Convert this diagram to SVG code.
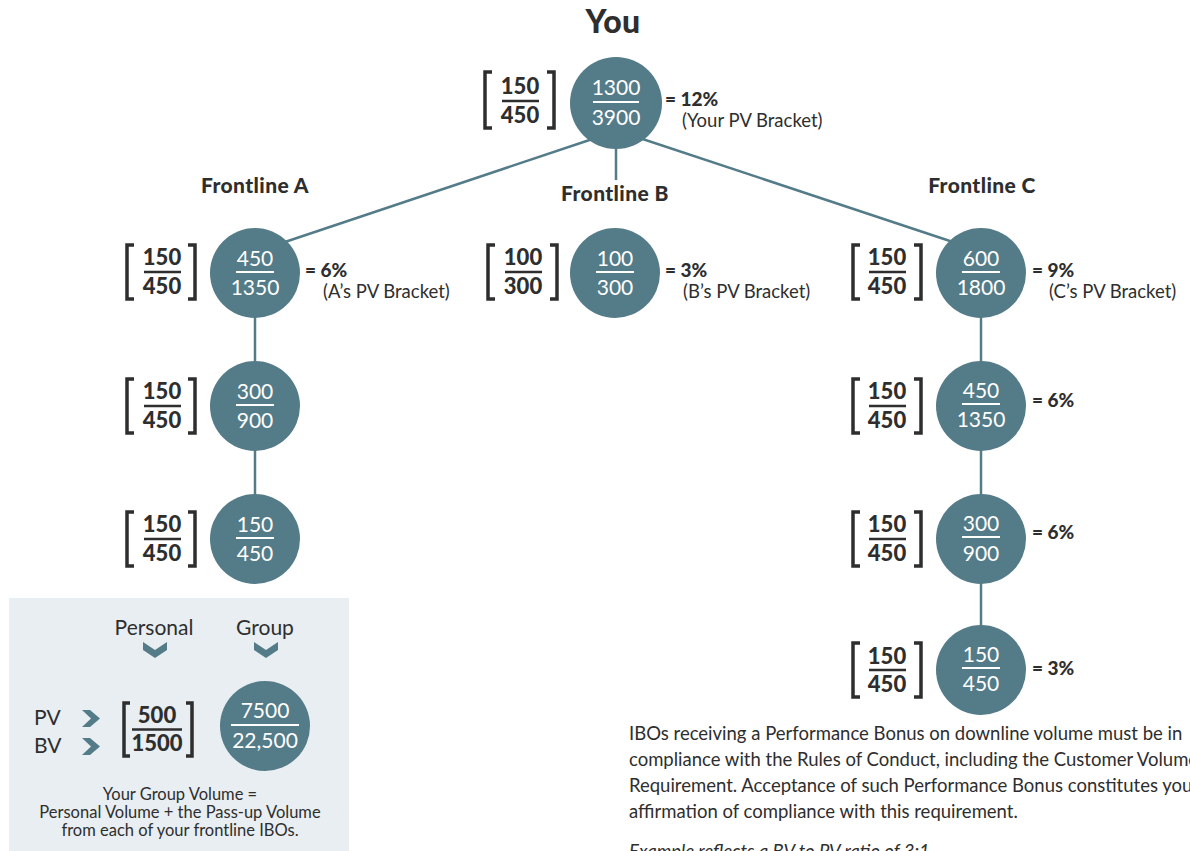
<svg xmlns="http://www.w3.org/2000/svg" width="1190" height="851" viewBox="0 0 1190 851">
<style>
.bg{fill:#ffffff}
.node{fill:#547b88}
.ctext{font-family:Lato,"Noto Sans",sans-serif;font-size:21px;fill:#ffffff;text-anchor:middle}
.cline{stroke:#ffffff;stroke-width:2}
.btext{font-family:Lato,"Noto Sans",sans-serif;font-size:22px;font-weight:900;fill:#2e2e2e;text-anchor:middle}
.bline{stroke:#2e2e2e;stroke-width:2.5}
.brk{fill:none;stroke:#2e2e2e;stroke-width:3.5}
.pct{font-family:Lato,"Noto Sans",sans-serif;font-size:19px;font-weight:900;fill:#2e2e2e}
.sub{font-family:Lato,"Noto Sans",sans-serif;font-size:18.5px;fill:#2e2e2e}
.head{font-family:Lato,"Noto Sans",sans-serif;font-size:21px;font-weight:900;fill:#2e2e2e;text-anchor:middle;letter-spacing:0.4px}
.conn{stroke:#547b88;stroke-width:2.5;fill:none}
.chev{fill:#547b88}
.leg{font-family:Lato,"Noto Sans",sans-serif;font-size:21px;fill:#2e2e2e}
.note{font-family:Lato,"Noto Sans",sans-serif;font-size:16.5px;fill:#2e2e2e;text-anchor:middle}
.para{font-family:Lato,"Noto Sans",sans-serif;font-size:18.5px;fill:#2e2e2e}
</style>
<rect class="bg" x="0" y="0" width="1190" height="851"/>

<text class="head" x="613" y="33" style="font-size:32px">You</text>
<text class="head" x="255" y="193">Frontline A</text>
<text class="head" x="615" y="201">Frontline B</text>
<text class="head" x="982" y="193">Frontline C</text>

<g id="connectors">
  <line class="conn" x1="600" y1="136.5" x2="270" y2="247"/>
  <line class="conn" x1="632" y1="135.5" x2="962" y2="245"/>
  <line class="conn" x1="616" y1="140" x2="616" y2="180"/>
  <line class="conn" x1="255" y1="310" x2="255" y2="370"/>
  <line class="conn" x1="255" y1="440" x2="255" y2="500"/>
  <line class="conn" x1="981" y1="310" x2="981" y2="370"/>
  <line class="conn" x1="981" y1="440" x2="981" y2="500"/>
  <line class="conn" x1="981" y1="575" x2="981" y2="632"/>
</g>

<g id="node-you">
  <path class="brk" d="M492,72 H485 V128 H492 M547,72 H554 V128 H547"/>
  <text class="btext" x="520" y="94">150</text>
  <line class="bline" x1="502" y1="101" x2="539" y2="101"/>
  <text class="btext" x="520" y="123">450</text>
  <circle class="node" cx="616" cy="103" r="46"/>
  <text class="ctext" x="616" y="95">1300</text>
  <line class="cline" x1="593" y1="102" x2="639" y2="102"/>
  <text class="ctext" x="616" y="125">3900</text>
  <text class="pct" x="665" y="106">= 12%</text>
  <text class="sub" x="682" y="127">(Your PV Bracket)</text>
</g>

<g id="node-a1">
  <path class="brk" d="M134,245 H127 V299 H134 M188,245 H195 V299 H188"/>
  <text class="btext" x="162" y="265">150</text>
  <line class="bline" x1="144" y1="272" x2="181" y2="272"/>
  <text class="btext" x="162" y="294">450</text>
  <circle class="node" cx="255" cy="273" r="45"/>
  <text class="ctext" x="255" y="266">450</text>
  <line class="cline" x1="236" y1="272" x2="274" y2="272"/>
  <text class="ctext" x="255" y="295">1350</text>
  <text class="pct" x="305" y="277">= 6%</text>
  <text class="sub" x="323" y="298">(A’s PV Bracket)</text>
</g>

<g id="node-a2">
  <path class="brk" d="M134,379 H127 V433 H134 M188,379 H195 V433 H188"/>
  <text class="btext" x="162" y="399">150</text>
  <line class="bline" x1="144" y1="406" x2="181" y2="406"/>
  <text class="btext" x="162" y="428">450</text>
  <circle class="node" cx="255" cy="406" r="45"/>
  <text class="ctext" x="255" y="399">300</text>
  <line class="cline" x1="236" y1="405" x2="274" y2="405"/>
  <text class="ctext" x="255" y="428">900</text>
</g>

<g id="node-a3">
  <path class="brk" d="M134,512 H127 V566 H134 M188,512 H195 V566 H188"/>
  <text class="btext" x="162" y="532">150</text>
  <line class="bline" x1="144" y1="539" x2="181" y2="539"/>
  <text class="btext" x="162" y="561">450</text>
  <circle class="node" cx="255" cy="539" r="45"/>
  <text class="ctext" x="255" y="532">150</text>
  <line class="cline" x1="236" y1="538" x2="274" y2="538"/>
  <text class="ctext" x="255" y="561">450</text>
</g>

<g id="node-b1">
  <path class="brk" d="M495,245 H488 V299 H495 M550,245 H557 V299 H550"/>
  <text class="btext" x="523" y="265">100</text>
  <line class="bline" x1="505" y1="272" x2="542" y2="272"/>
  <text class="btext" x="523" y="294">300</text>
  <circle class="node" cx="615" cy="273" r="45"/>
  <text class="ctext" x="615" y="266">100</text>
  <line class="cline" x1="596" y1="272" x2="634" y2="272"/>
  <text class="ctext" x="615" y="295">300</text>
  <text class="pct" x="665" y="277">= 3%</text>
  <text class="sub" x="683" y="298">(B’s PV Bracket)</text>
</g>

<g id="node-c1">
  <path class="brk" d="M860,245 H853 V299 H860 M914,245 H921 V299 H914"/>
  <text class="btext" x="887" y="265">150</text>
  <line class="bline" x1="869" y1="272" x2="906" y2="272"/>
  <text class="btext" x="887" y="294">450</text>
  <circle class="node" cx="981" cy="273" r="45"/>
  <text class="ctext" x="981" y="266">600</text>
  <line class="cline" x1="962" y1="272" x2="1000" y2="272"/>
  <text class="ctext" x="981" y="295">1800</text>
  <text class="pct" x="1032" y="277">= 9%</text>
  <text class="sub" x="1049" y="298">(C’s PV Bracket)</text>
</g>

<g id="node-c2">
  <path class="brk" d="M860,379 H853 V433 H860 M914,379 H921 V433 H914"/>
  <text class="btext" x="887" y="399">150</text>
  <line class="bline" x1="869" y1="406" x2="906" y2="406"/>
  <text class="btext" x="887" y="428">450</text>
  <circle class="node" cx="981" cy="406" r="45"/>
  <text class="ctext" x="981" y="398">450</text>
  <line class="cline" x1="962" y1="404" x2="1000" y2="404"/>
  <text class="ctext" x="981" y="427">1350</text>
  <text class="pct" x="1032" y="407">= 6%</text>
</g>

<g id="node-c3">
  <path class="brk" d="M860,512 H853 V566 H860 M914,512 H921 V566 H914"/>
  <text class="btext" x="887" y="532">150</text>
  <line class="bline" x1="869" y1="539" x2="906" y2="539"/>
  <text class="btext" x="887" y="561">450</text>
  <circle class="node" cx="981" cy="539" r="45"/>
  <text class="ctext" x="981" y="531">300</text>
  <line class="cline" x1="962" y1="537" x2="1000" y2="537"/>
  <text class="ctext" x="981" y="561">900</text>
  <text class="pct" x="1032" y="539">= 6%</text>
</g>

<g id="node-c4">
  <path class="brk" d="M860,643 H853 V697 H860 M914,643 H921 V697 H914"/>
  <text class="btext" x="887" y="664">150</text>
  <line class="bline" x1="869" y1="670" x2="906" y2="670"/>
  <text class="btext" x="887" y="692">450</text>
  <circle class="node" cx="981" cy="670" r="45"/>
  <text class="ctext" x="981" y="662">150</text>
  <line class="cline" x1="962" y1="668" x2="1000" y2="668"/>
  <text class="ctext" x="981" y="691">450</text>
  <text class="pct" x="1032" y="675">= 3%</text>
</g>

<g id="legend">
  <rect x="9" y="598" width="340" height="253" fill="#e8eef1"/>
  <text class="leg" x="154" y="635" text-anchor="middle">Personal</text>
  <text class="leg" x="265" y="635" text-anchor="middle">Group</text>
  <polygon class="chev" points="143,642 155,650 167,642 167,650 155,658 143,650"/>
  <polygon class="chev" points="254,642 266,650 278,642 278,650 266,658 254,650"/>
  <text class="leg" x="34" y="725">PV</text>
  <text class="leg" x="34" y="753">BV</text>
  <polygon class="chev" points="82,710 90,710 100,718.5 90,727 82,727 91,718.5"/>
  <polygon class="chev" points="82,738 90,738 100,746.5 90,755 82,755 91,746.5"/>
  <path class="brk" d="M130,703 H124 V756 H130 M186,703 H192 V756 H186"/>
  <text class="btext" x="157" y="723">500</text>
  <line class="bline" x1="132" y1="729.5" x2="182" y2="729.5"/>
  <text class="btext" x="157" y="751">1500</text>
  <circle class="node" cx="265" cy="726" r="45"/>
  <text class="ctext" x="265" y="718">7500</text>
  <line class="cline" x1="231" y1="725" x2="299" y2="725"/>
  <text class="ctext" x="265" y="748">22,500</text>
  <text class="note" x="180" y="800">Your Group Volume =</text>
  <text class="note" x="180" y="818">Personal Volume + the Pass-up Volume</text>
  <text class="note" x="180" y="836">from each of your frontline IBOs.</text>
</g>

<g id="notes">
  <text class="para" x="629" y="740">IBOs receiving a Performance Bonus on downline volume must be in</text>
  <text class="para" x="629" y="766">compliance with the Rules of Conduct, including the Customer Volume</text>
  <text class="para" x="629" y="792">Requirement. Acceptance of such Performance Bonus constitutes your</text>
  <text class="para" x="629" y="818">affirmation of compliance with this requirement.</text>
  <text class="para" x="629" y="858" font-style="italic">Example reflects a BV to PV ratio of 3:1</text>
</g>
</svg>
